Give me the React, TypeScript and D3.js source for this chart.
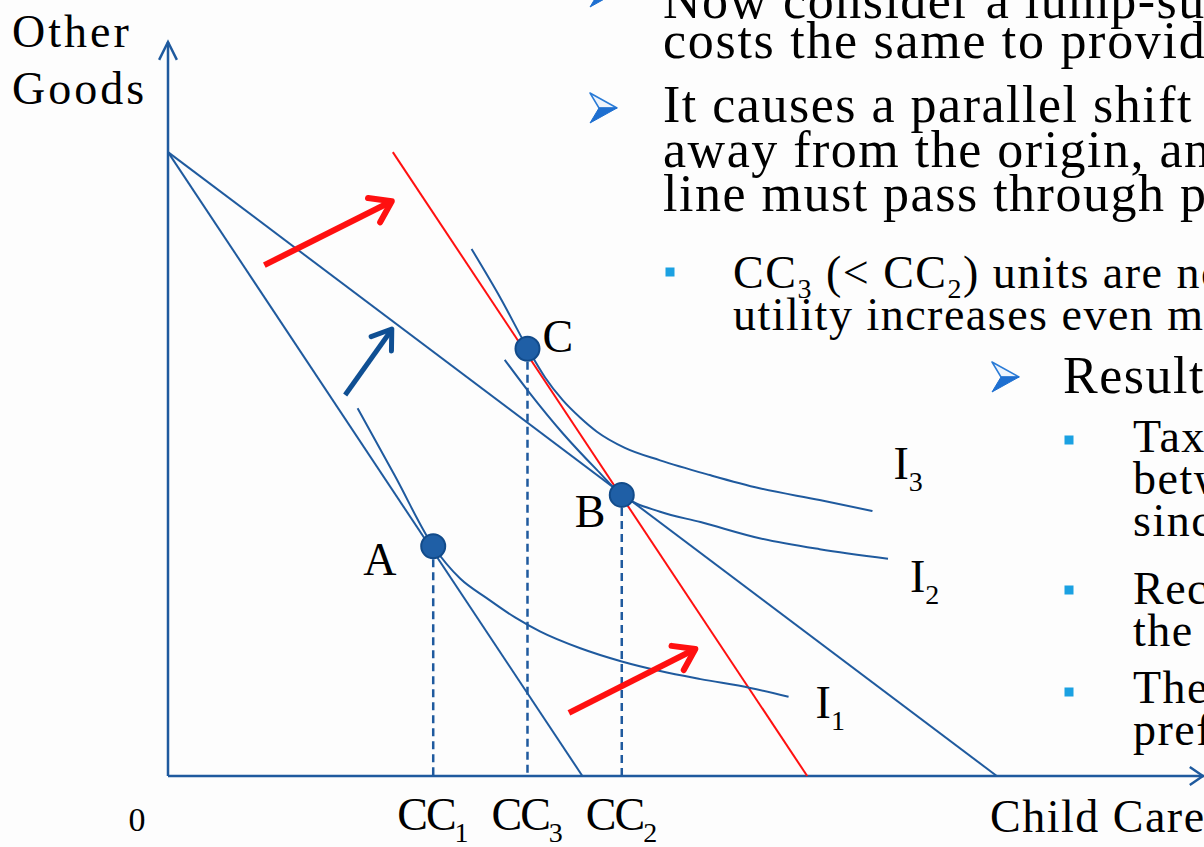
import React from 'react';
import * as d3 from 'd3';

const W = 1204;
const H = 847;

// ---- data (schematic units: x = child care, y = other goods) ----
const originalBudget: [number, number][] = [[0, 85], [40, 0]];
const subsidyBudget: [number, number][] = [[0, 85], [80, 0]];
const lumpSumBudget: [number, number][] = [[21.7, 85], [61.7, 0]];

const curveI1: [number, number][] = [
  [18.3, 50.1], [21.9, 40.9], [25.6, 31.3], [28.2, 26.9], [30.8, 24.2], [33.5, 21.6],
  [35.9, 19.7], [39.8, 17.4], [43.8, 15.6], [47.5, 14.3], [51.4, 13.2], [56.2, 12.0], [59.9, 10.8],
];
const curveI2: [number, number][] = [
  [32.5, 56.7], [34.9, 52.2], [38.1, 46.7], [41.4, 41.7], [43.8, 38.3], [47.5, 36.0],
  [51.4, 34.6], [57.1, 32.4], [62.9, 30.9], [69.5, 29.6],
];
const curveI3: [number, number][] = [
  [29.3, 71.8], [32.1, 65.1], [34.7, 58.3], [36.4, 54.3], [38.1, 51.2], [39.8, 48.8],
  [41.4, 46.9], [44.1, 44.7], [47.5, 43.0], [52.3, 41.0], [57.1, 39.2], [62.9, 37.6], [68.0, 36.1],
];

const pointNames = ['A', 'B', 'C'];
const pointX = [25.6, 43.8, 34.7];
const pointY = [31.3, 38.3, 58.2];

const tickLabels = ['CC', 'CC', 'CC'];
const tickSubs = ['1', '3', '2'];
const tickX = [25.6, 34.7, 43.8];

const curveNames = ['I', 'I', 'I'];
const curveSubs = ['1', '2', '3'];

// shift arrows: [tailX, tailY, tipX, tipY]
const redArrows: [number, number, number, number][] = [
  [9.3, 69.6, 21.6, 78.3],
  [38.7, 8.6, 50.9, 17.3],
];
const blueArrows: [number, number, number, number][] = [
  [17.1, 51.9, 21.6, 60.9],
];

const BLUE = '#1f5a9e';
const RED = '#ff1010';
const SERIF = '"Liberation Serif", "Times New Roman", serif';

function arrowHead(x1: number, y1: number, x2: number, y2: number, len: number, ang: number) {
  const a = Math.atan2(y1 - y2, x1 - x2);
  const w1 = [x2 + len * Math.cos(a + ang), y2 + len * Math.sin(a + ang)];
  const w2 = [x2 + len * Math.cos(a - ang), y2 + len * Math.sin(a - ang)];
  return `M${w1[0]},${w1[1]}L${x2},${y2}L${w2[0]},${w2[1]}`;
}

function BulletArrow({ x, y }: { x: number; y: number }) {
  return (
    <g>
      <polygon points={`${x},${y - 15} ${x + 27},${y} ${x + 9},${y}`} fill="#eef4fc" stroke="#2a7bd6" strokeWidth={1.5} strokeLinejoin="round" />
      <polygon points={`${x},${y + 15} ${x + 27},${y} ${x + 9},${y}`} fill="#1e6fd0" stroke="#1e6fd0" strokeWidth={1} strokeLinejoin="round" />
    </g>
  );
}

function Square({ x, y }: { x: number; y: number }) {
  return <rect x={x - 4.5} y={y - 4.5} width={9} height={9} fill="#1ba1e2" />;
}

export default function App() {
  const x = d3.scaleLinear().domain([0, 100]).range([168, 1204]);
  const y = d3.scaleLinear().domain([0, 100]).range([776, 42]);
  const straight = d3.line<[number, number]>().x(d => x(d[0])).y(d => y(d[1]));
  const smooth = d3
    .line<[number, number]>()
    .x(d => x(d[0]))
    .y(d => y(d[1]))
    .curve(d3.curveMonotoneX);

  const curves = [curveI1, curveI2, curveI3];
  const curveLabelOffsets = [
    [27, 21],
    [22, 33],
    [21, -32],
  ];

  const bodyL1 = 52;
  const bodyL2 = 46;
  const labelSize = 46;
  const subSize = 28;

  return (
    <svg
      width={W}
      height={H}
      style={{ position: 'absolute', left: 0, top: 0, background: '#fdfdfd' }}
      fontFamily={SERIF}
    >
      <rect x={0} y={0} width={W} height={H} fill="#fdfdfd" />

      {/* axes */}
      <line x1={x(0)} y1={y(0)} x2={x(0)} y2={y(100)} stroke={BLUE} strokeWidth={2.5} />
      <line x1={x(0)} y1={y(0)} x2={x(100)} y2={y(0)} stroke={BLUE} strokeWidth={2.5} />
      <path d={arrowHead(x(0), y(0), x(0), y(100), 20, 0.46)} fill="none" stroke={BLUE} strokeWidth={2.5} />
      <path d={arrowHead(x(0), y(0), x(100) - 1, y(0), 16, 0.6)} fill="none" stroke={BLUE} strokeWidth={2.5} />

      {/* budget lines */}
      <path d={straight(originalBudget)!} fill="none" stroke={BLUE} strokeWidth={2} />
      <path d={straight(subsidyBudget)!} fill="none" stroke={BLUE} strokeWidth={2} />
      <path d={straight(lumpSumBudget)!} fill="none" stroke={RED} strokeWidth={2} />

      {/* indifference curves */}
      {curves.map((c, i) => (
        <path key={i} d={smooth(c)!} fill="none" stroke={BLUE} strokeWidth={2} />
      ))}

      {/* dashed drop lines */}
      {pointNames.map((n, i) => (
        <line
          key={n}
          x1={x(pointX[i])}
          y1={y(pointY[i])}
          x2={x(pointX[i])}
          y2={y(0)}
          stroke={BLUE}
          strokeWidth={2.5}
          strokeDasharray="8,5"
        />
      ))}

      {/* arrows */}
      {redArrows.map((a, i) => (
        <g key={'r' + i}>
          <line x1={x(a[0])} y1={y(a[1])} x2={x(a[2]) - 4} y2={y(a[3]) + 2} stroke={RED} strokeWidth={6} />
          <path d={arrowHead(x(a[0]), y(a[1]), x(a[2]), y(a[3]), 24, 0.6)} fill="none" stroke={RED} strokeWidth={6} strokeLinecap="round" strokeLinejoin="round" />
        </g>
      ))}
      {blueArrows.map((a, i) => (
        <g key={'b' + i}>
          <line x1={x(a[0])} y1={y(a[1])} x2={x(a[2]) - 1} y2={y(a[3]) + 2} stroke="#0f4f93" strokeWidth={5} />
          <path d={arrowHead(x(a[0]), y(a[1]), x(a[2]), y(a[3]), 22, 0.6)} fill="none" stroke="#0f4f93" strokeWidth={5} strokeLinecap="round" strokeLinejoin="round" />
        </g>
      ))}

      {/* points */}
      {pointNames.map((n, i) => (
        <circle key={n} cx={x(pointX[i])} cy={y(pointY[i])} r={12} fill="#1f5fa6" stroke="#124b8a" strokeWidth={2} />
      ))}

      {/* point labels */}
      <g fontSize={labelSize} fill="#000">
        <text x={x(pointX[0]) - 70} y={y(pointY[0]) + 29}>{pointNames[0]}</text>
        <text x={x(pointX[1]) - 47} y={y(pointY[1]) + 32}>{pointNames[1]}</text>
        <text x={x(pointX[2]) + 15} y={y(pointY[2]) + 3}>{pointNames[2]}</text>
      </g>

      {/* curve labels */}
      {curves.map((c, i) => {
        const last = c[c.length - 1];
        const off = curveLabelOffsets[i];
        return (
          <text key={'cl' + i} x={x(last[0]) + off[0]} y={y(last[1]) + off[1]} fontSize={labelSize}>
            {curveNames[i]}
            <tspan fontSize={subSize} dy={12}>{curveSubs[i]}</tspan>
          </text>
        );
      })}

      {/* x tick labels */}
      {tickLabels.map((t, i) => (
        <text key={'t' + i} x={x(tickX[i]) - 36} y={830} fontSize={labelSize} letterSpacing={-2}>
          {t}
          <tspan fontSize={subSize} dy={12} letterSpacing={0}>{tickSubs[i]}</tspan>
        </text>
      ))}

      {/* axis titles */}
      <text x={12} y={47} fontSize={labelSize} letterSpacing={3}>Other</text>
      <text x={12} y={104} fontSize={labelSize} letterSpacing={3}>Goods</text>
      <text x={990} y={832} fontSize={labelSize} letterSpacing={1.5}>Child Care</text>
      <text x={137} y={831} fontSize={34} textAnchor="middle">0</text>

      {/* slide text */}
      <g fill="#000">
        <BulletArrow x={590} y={-8} />
        <text x={663} y={18} fontSize={bodyL1} letterSpacing={1.5}>Now consider a lump-sum subsidy that</text>
        <text x={663} y={58} fontSize={bodyL1} letterSpacing={1.7}>costs the same to provide</text>

        <BulletArrow x={590} y={108} />
        <text x={663} y={122} fontSize={bodyL1} letterSpacing={1.5}>It causes a parallel shift in the budget line</text>
        <text x={663} y={167} fontSize={bodyL1} letterSpacing={1.5}>away from the origin, and the new budget</text>
        <text x={663} y={211} fontSize={bodyL1} letterSpacing={1.5}>line must pass through point B</text>

        <Square x={670} y={272} />
        <text x={733} y={288} fontSize={bodyL2} letterSpacing={1.5}>
          CC<tspan fontSize={28} dy={10}>3</tspan>
          <tspan dy={-10}> (&lt; CC</tspan>
          <tspan fontSize={28} dy={10}>2</tspan>
          <tspan dy={-10}>) units are now consumed, but</tspan>
        </text>
        <text x={733} y={330} fontSize={bodyL2} letterSpacing={1.5}>utility increases even more</text>

        <BulletArrow x={992} y={377} />
        <text x={1063} y={393} fontSize={bodyL1} letterSpacing={1.5}>Results</text>

        <Square x={1069} y={440} />
        <text x={1133} y={452} fontSize={bodyL2} letterSpacing={1.5}>Taxpayers</text>
        <text x={1133} y={494} fontSize={bodyL2} letterSpacing={1.5}>between</text>
        <text x={1133} y={536} fontSize={bodyL2} letterSpacing={1.5}>since</text>

        <Square x={1069} y={590} />
        <text x={1133} y={604} fontSize={bodyL2} letterSpacing={1.5}>Recipients</text>
        <text x={1133} y={646} fontSize={bodyL2} letterSpacing={1.5}>the</text>

        <Square x={1069} y={692} />
        <text x={1133} y={703} fontSize={bodyL2} letterSpacing={1.5}>The</text>
        <text x={1133} y={745} fontSize={bodyL2} letterSpacing={1.5}>preferred</text>
      </g>
    </svg>
  );
}
